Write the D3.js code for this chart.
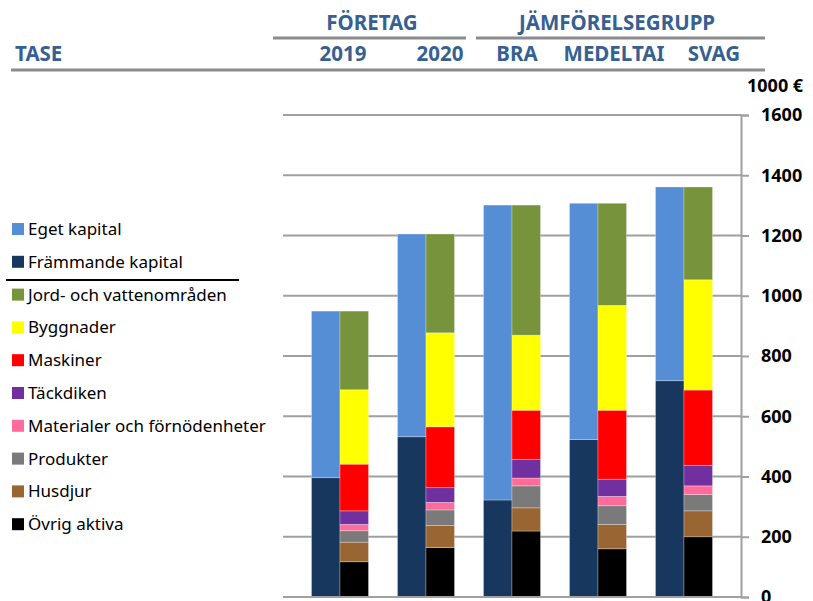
<!DOCTYPE html>
<html lang="sv">
<head>
  <meta charset="UTF-8" />
  <title>Tase</title>
  <style>
    body { margin: 0; background: #fff; }
    svg { display: block; }
    .hdr { font-family: "Noto Sans", sans-serif; font-weight: bold; fill: #376092; font-size: 20.5px; }
    .leg { font-family: "Noto Sans", sans-serif; font-size: 17px; fill: #000; }
    .tick text { font-family: "Noto Sans", sans-serif; font-weight: bold; font-size: 18px; fill: #000; }
  </style>
</head>
<body>
  <svg id="chart" width="813" height="601"></svg>

  <script src="https://cdnjs.cloudflare.com/ajax/libs/d3/7.8.4/d3.min.js"></script>
  <script>
    const categories = ["2019", "2020", "BRA", "MEDELTAI", "SVAG"];

    // financing (left bar)
    const framandeKapital = [396, 532, 322, 523, 718];
    const egetKapital = [553, 673, 979, 784, 643];

    // assets (right bar), bottom to top
    const ovrigAktiva = [117, 164, 219, 160, 200];
    const husdjur = [65, 73, 77, 81, 86];
    const produkter = [38, 52, 73, 62, 54];
    const materialer = [21, 25, 26, 31, 29];
    const tackdiken = [45, 49, 62, 57, 68];
    const maskiner = [155, 202, 163, 229, 250];
    const byggnader = [247, 312, 249, 348, 366];
    const jord = [261, 328, 432, 339, 308];

    const yTicks = [0, 200, 400, 600, 800, 1000, 1200, 1400, 1600];

    const capitalSeries = [
      { key: "Främmande kapital", values: framandeKapital, color: "#17375e" },
      { key: "Eget kapital", values: egetKapital, color: "#558ed5" }
    ];
    const assetSeries = [
      { key: "Övrig aktiva", values: ovrigAktiva, color: "#000000" },
      { key: "Husdjur", values: husdjur, color: "#996633" },
      { key: "Produkter", values: produkter, color: "#7a7a7a" },
      { key: "Materialer och förnödenheter", values: materialer, color: "#ff6c9c" },
      { key: "Täckdiken", values: tackdiken, color: "#7030a0" },
      { key: "Maskiner", values: maskiner, color: "#ff0000" },
      { key: "Byggnader", values: byggnader, color: "#ffff00" },
      { key: "Jord- och vattenområden", values: jord, color: "#77933c" }
    ];

    const svg = d3.select("#chart");

    const y = d3.scaleLinear().domain([0, 1600]).range([597, 115]);
    const x0 = d3.scaleBand().domain(categories).range([297, 727]).paddingInner(0.337).paddingOuter(0.1685);
    const x1 = d3.scaleBand().domain(["capital", "assets"]).range([0, x0.bandwidth()]);

    // gridlines
    svg.append("g")
      .selectAll("line")
      .data(yTicks)
      .enter().append("line")
      .attr("x1", 283).attr("x2", 741)
      .attr("y1", d => y(d)).attr("y2", d => y(d))
      .attr("stroke", "#a0a0a0")
      .attr("stroke-width", 2);

    function stackOf(series) {
      const rows = categories.map((c, i) => {
        const r = { cat: c };
        series.forEach(s => { r[s.key] = s.values[i]; });
        return r;
      });
      return d3.stack().keys(series.map(s => s.key))(rows);
    }

    function drawStack(series, slot) {
      const colorOf = {};
      series.forEach(s => { colorOf[s.key] = s.color; });
      svg.append("g")
        .selectAll("g")
        .data(stackOf(series))
        .enter().append("g")
        .attr("fill", d => colorOf[d.key])
        .selectAll("rect")
        .data(d => d)
        .enter().append("rect")
        .attr("x", d => x0(d.data.cat) + x1(slot))
        .attr("width", x1.bandwidth())
        .attr("y", d => y(d[1]))
        .attr("height", d => y(d[0]) - y(d[1]))
        .attr("stroke", "rgba(255,255,255,0.35)")
        .attr("stroke-width", 0.8);
    }

    drawStack(capitalSeries, "capital");
    drawStack(assetSeries, "assets");

    // right axis
    const axis = svg.append("g")
      .attr("transform", "translate(741,0)")
      .call(d3.axisRight(y).tickValues(yTicks).tickSize(8).tickPadding(12).tickFormat(d3.format("d")));
    axis.select(".domain").attr("stroke", "#a0a0a0").attr("stroke-width", 2);
    axis.selectAll(".tick line").attr("stroke", "#a0a0a0").attr("stroke-width", 2);

    // bottom line
    svg.append("line")
      .attr("x1", 283).attr("x2", 742)
      .attr("y1", y(0)).attr("y2", y(0))
      .attr("stroke", "#a0a0a0").attr("stroke-width", 2);

    svg.append("text")
      .attr("x", 747).attr("y", 92)
      .attr("font-family", "Noto Sans, sans-serif")
      .attr("font-weight", "bold")
      .attr("font-size", 18)
      .text("1000 €");

    // header
    const hdr = svg.append("g");
    hdr.append("text").attr("class", "hdr").attr("x", 372).attr("y", 30).attr("text-anchor", "middle").text("FÖRETAG");
    hdr.append("text").attr("class", "hdr").attr("x", 617).attr("y", 30).attr("text-anchor", "middle").text("JÄMFÖRELSEGRUPP");
    hdr.append("line").attr("x1", 273).attr("x2", 466).attr("y1", 38).attr("y2", 38).attr("stroke", "#8c8c8c").attr("stroke-width", 3);
    hdr.append("line").attr("x1", 476).attr("x2", 765).attr("y1", 38).attr("y2", 38).attr("stroke", "#8c8c8c").attr("stroke-width", 3);
    hdr.append("text").attr("class", "hdr").attr("x", 15).attr("y", 61).text("TASE");
    const colLabels = [["2019", 343], ["2020", 440], ["BRA", 517], ["MEDELTAI", 614], ["SVAG", 714]];
    colLabels.forEach(([t, cx]) => {
      hdr.append("text").attr("class", "hdr").attr("x", cx).attr("y", 61).attr("text-anchor", "middle").text(t);
    });
    hdr.append("line").attr("x1", 11).attr("x2", 765).attr("y1", 70).attr("y2", 70).attr("stroke", "#8c8c8c").attr("stroke-width", 3);

    // legend
    const legendItems = capitalSeries.slice().reverse().concat(assetSeries.slice().reverse());
    const leg = svg.append("g");
    legendItems.forEach((s, i) => {
      const cy = 229 + i * 32.8;
      leg.append("rect").attr("x", 12).attr("y", cy - 6).attr("width", 12).attr("height", 12).attr("fill", s.color);
      leg.append("text").attr("class", "leg").attr("x", 28).attr("y", cy + 6).text(s.key);
    });
    leg.append("line").attr("x1", 6).attr("x2", 239).attr("y1", 280).attr("y2", 280).attr("stroke", "#000").attr("stroke-width", 2);
  </script>
</body>
</html>
